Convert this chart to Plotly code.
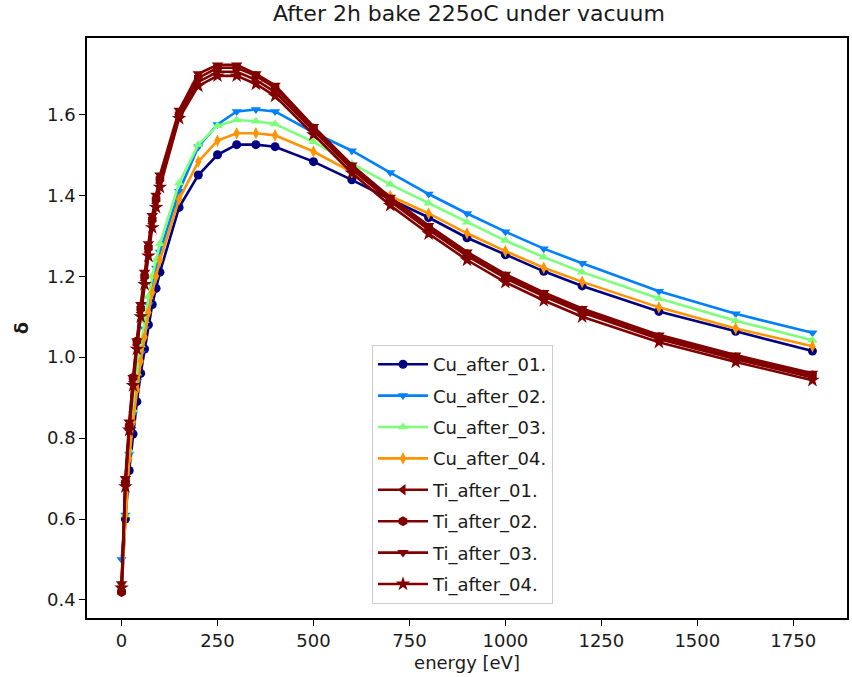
import plotly.graph_objects as go

energy = [0, 10, 20, 30, 40, 50, 60, 70, 80, 90, 100, 150, 200, 250, 300, 350, 400,
          500, 600, 700, 800, 900, 1000, 1100, 1200, 1400, 1600, 1800]

cu_after_01 = [0.42, 0.60, 0.72, 0.81, 0.89, 0.96, 1.02, 1.08, 1.13, 1.17, 1.21, 1.37, 1.45,
               1.50, 1.525, 1.525, 1.52, 1.483, 1.438, 1.39, 1.345, 1.295, 1.253, 1.212,
               1.176, 1.113, 1.064, 1.015]
cu_after_02 = [0.50, 0.61, 0.76, 0.86, 0.94, 1.01, 1.07, 1.13, 1.18, 1.22, 1.26, 1.41, 1.52,
               1.575, 1.607, 1.612, 1.607, 1.555, 1.51, 1.456, 1.403, 1.355, 1.31, 1.268,
               1.232, 1.163, 1.107, 1.060]
cu_after_03 = [0.44, 0.61, 0.77, 0.87, 0.96, 1.03, 1.09, 1.15, 1.20, 1.24, 1.28, 1.43, 1.525,
               1.572, 1.586, 1.583, 1.576, 1.532, 1.478, 1.427, 1.38, 1.333, 1.288, 1.247,
               1.21, 1.145, 1.09, 1.042]
cu_after_04 = [0.44, 0.61, 0.75, 0.84, 0.92, 0.99, 1.05, 1.11, 1.16, 1.20, 1.24, 1.39, 1.483,
               1.535, 1.553, 1.553, 1.548, 1.508, 1.457, 1.398, 1.355, 1.306, 1.262, 1.221,
               1.186, 1.123, 1.071, 1.027]
ti_after_01 = [0.43, 0.69, 0.82, 0.94, 1.03, 1.11, 1.19, 1.26, 1.33, 1.38, 1.43, 1.60, 1.68,
               1.705, 1.705, 1.685, 1.655, 1.56, 1.465, 1.385, 1.315, 1.25, 1.195, 1.15,
               1.11, 1.045, 0.995, 0.95]
ti_after_02 = [0.42, 0.69, 0.83, 0.95, 1.04, 1.12, 1.20, 1.27, 1.34, 1.39, 1.44, 1.60, 1.69,
               1.715, 1.715, 1.695, 1.665, 1.565, 1.47, 1.39, 1.32, 1.255, 1.20, 1.155,
               1.115, 1.05, 1.00, 0.955]
ti_after_03 = [0.44, 0.70, 0.84, 0.95, 1.04, 1.13, 1.21, 1.28, 1.35, 1.40, 1.45, 1.61, 1.70,
               1.722, 1.722, 1.70, 1.672, 1.57, 1.475, 1.395, 1.325, 1.26, 1.205, 1.16,
               1.12, 1.055, 1.005, 0.96]
ti_after_04 = [0.43, 0.68, 0.82, 0.93, 1.02, 1.10, 1.18, 1.25, 1.32, 1.37, 1.42, 1.59, 1.67,
               1.695, 1.695, 1.675, 1.645, 1.55, 1.455, 1.375, 1.305, 1.24, 1.185, 1.14,
               1.10, 1.037, 0.988, 0.943]

names = ["Cu_after_01.", "Cu_after_02.", "Cu_after_03.", "Cu_after_04.",
         "Ti_after_01.", "Ti_after_02.", "Ti_after_03.", "Ti_after_04."]
series = [cu_after_01, cu_after_02, cu_after_03, cu_after_04,
          ti_after_01, ti_after_02, ti_after_03, ti_after_04]
colors = ["#000080", "#0080ff", "#7dff7a", "#ff9400",
          "#800000", "#800000", "#800000", "#800000"]
symbols = ["circle", "triangle-down", "triangle-up", "diamond-tall",
           "triangle-left", "hexagon", "triangle-down", "star"]
msizes = [9, 9, 9, 9, 10, 10, 10, 11]

x_ticks = [0, 250, 500, 750, 1000, 1250, 1500, 1750]
y_ticks = [0.4, 0.6, 0.8, 1.0, 1.2, 1.4, 1.6]

FONT = "DejaVu Sans"
TXT = "#1a1a1a"

fig = go.Figure()
for i, (nm, ys) in enumerate(zip(names, series)):
    fig.add_trace(go.Scatter(
        x=energy, y=ys, name=nm, mode="lines+markers",
        line=dict(color=colors[i], width=2.6),
        marker=dict(symbol=symbols[i], size=msizes[i], color=colors[i],
                    line=dict(width=0)),
        legendgroup=f"g{i}",
    ))

fig.update_layout(
    width=852, height=677,
    margin=dict(l=87, r=3, t=38, b=59),
    paper_bgcolor="white", plot_bgcolor="white",
    font=dict(family=FONT, size=18, color=TXT),
    title=dict(text="After 2h bake 225oC under vacuum", x=0.5505, xanchor="center",
               y=0.98, yanchor="middle", font=dict(size=22, family=FONT, color=TXT)),
    showlegend=True,
    legend=dict(x=0.375, y=0.4707, xanchor="left", yanchor="top",
                bgcolor="rgba(255,255,255,0.8)", bordercolor="#cccccc", borderwidth=1,
                font=dict(size=18, family=FONT, color=TXT),
                tracegroupgap=5, itemwidth=50),
    xaxis=dict(range=[-90, 1890], tickmode="array", tickvals=x_ticks,
               ticks="outside", ticklen=6, tickwidth=1.2, tickcolor="black",
               showline=True, linecolor="black", linewidth=1.5, mirror=True,
               showgrid=False, zeroline=False,
               tickfont=dict(size=18, family=FONT, color=TXT),
               title=dict(text="energy [eV]", font=dict(size=18, family=FONT, color=TXT),
                          standoff=6)),
    yaxis=dict(range=[0.3555, 1.7885], tickmode="array", tickvals=y_ticks,
               ticktext=[f"{v:.1f}" for v in y_ticks],
               ticks="outside", ticklen=6, tickwidth=1.2, tickcolor="black",
               showline=True, linecolor="black", linewidth=1.5, mirror=True,
               showgrid=False, zeroline=False,
               tickfont=dict(size=18, family=FONT, color=TXT),
               title=dict(text="<b>δ</b>", font=dict(size=18, family=FONT, color=TXT),
                          standoff=14)),
)

fig.write_html("out.html")
